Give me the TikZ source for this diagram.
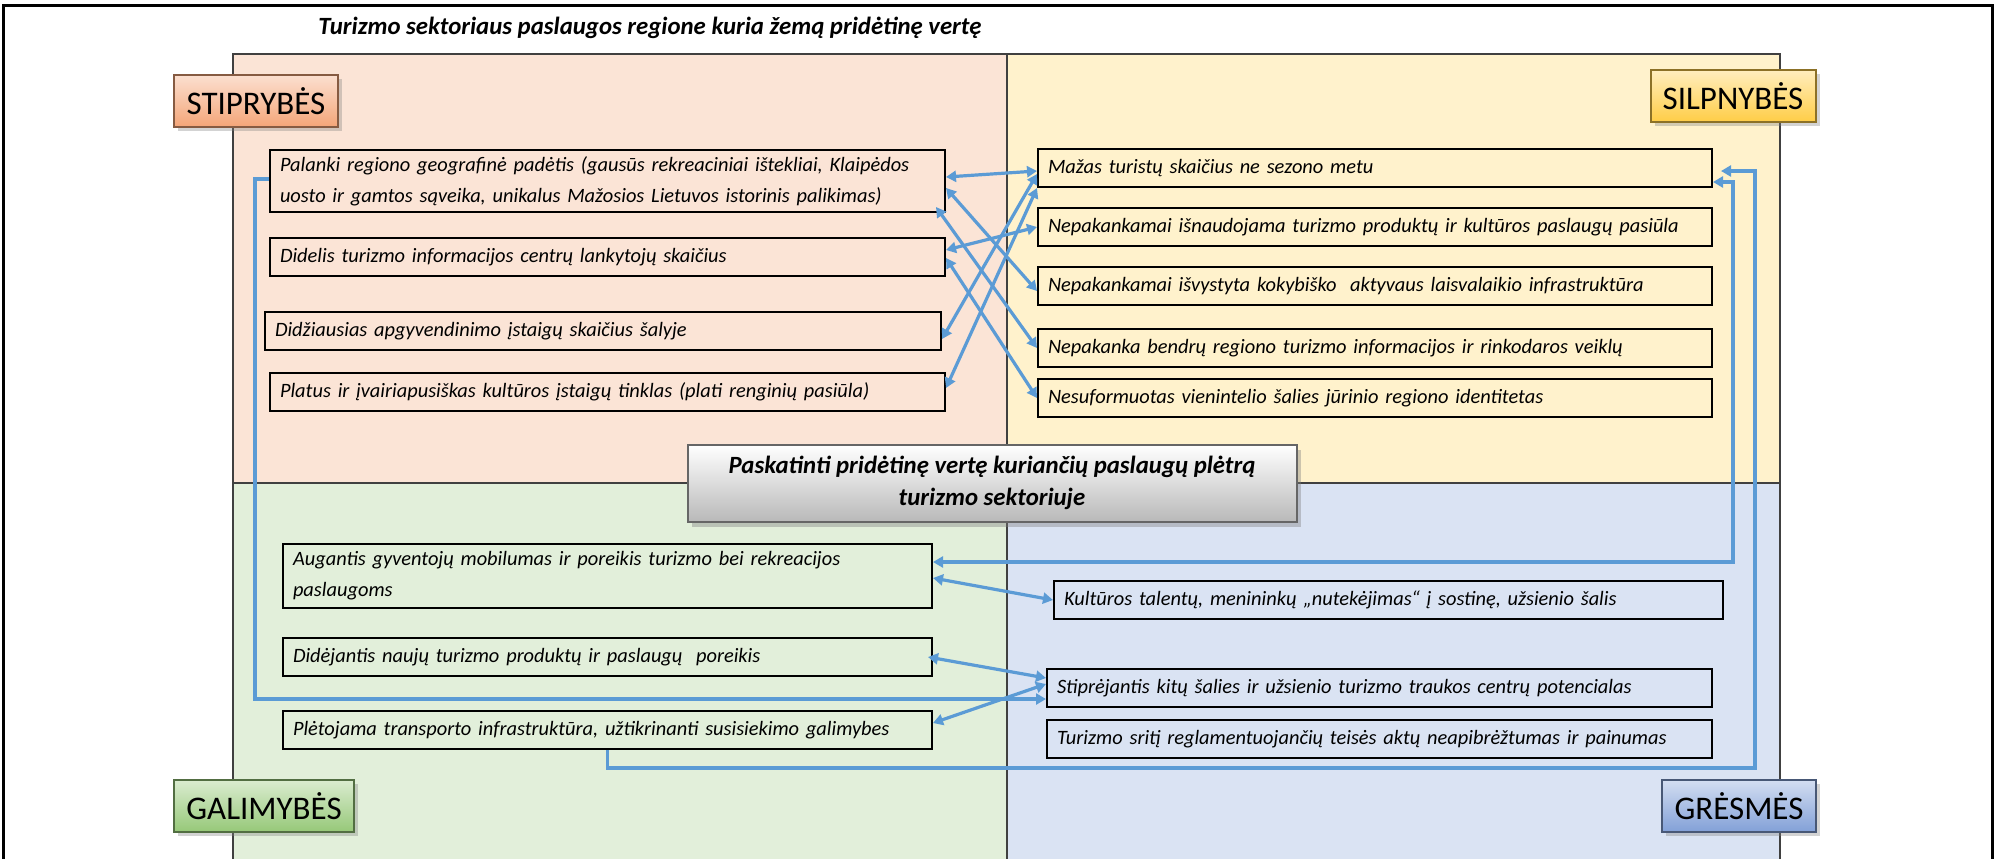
\documentclass[tikz,border=0pt]{standalone}
\usepackage{fontspec}
\setmainfont{Carlito}
\usetikzlibrary{arrows.meta, positioning, shadows, calc}
\definecolor{Strength}{RGB}{251, 228, 214}
\definecolor{Weakness}{RGB}{255, 242, 204}
\definecolor{Chance}{RGB}{226, 239, 218}
\definecolor{Threat}{RGB}{218, 227, 243}
\definecolor{Edge}{RGB}{64, 64, 64}
\definecolor{Link}{RGB}{91, 155, 213}
\definecolor{StrengthTag}{RGB}{244, 165, 120}
\definecolor{WeaknessTag}{RGB}{255, 205, 70}
\definecolor{ChanceTag}{RGB}{150, 200, 120}
\definecolor{ThreatTag}{RGB}{130, 160, 215}

\begin{document}
\begin{tikzpicture}[
        x=0.5pt, y=-0.5pt,
        >={Triangle[length=5pt, width=5.5pt]},
        quadline/.style={draw=Edge, line width=0.75pt},
        itembox/.style={draw=black, line width=1pt, anchor=north west, align=left,
            inner xsep=5pt, inner ysep=2pt, minimum height=19pt,
            font=\fontsize{10.2}{15.5}\selectfont\itshape},
        swotlabel/.style={draw=#1!55!black, line width=1pt, top color=#1!35!white, bottom color=#1,
            minimum height=26pt, inner xsep=4pt, font=\fontsize{16.5}{18}\selectfont,
            drop shadow={shadow xshift=2pt, shadow yshift=-2pt, opacity=0.35}},
        linkline/.style={draw=Link, line width=1.6pt}
    ]
        \useasboundingbox (0,0) rectangle (1998,858);

        % Quadrants
        \fill[Strength] (233,54) rectangle (1007,483);
        \fill[Weakness] (1007,54) rectangle (1780,483);
        \fill[Chance] (233,483) rectangle (1007,900);
        \fill[Threat] (1007,483) rectangle (1780,900);
        \draw[quadline] (233,900) -- (233,54) -- (1780,54) -- (1780,900);
        \draw[quadline] (1007,54) -- (1007,900);
        \draw[quadline] (233,483) -- (1780,483);

        % Frame
        \draw[line width=1.5pt] (3,900) -- (3,5) -- (1992,5) -- (1992,900);

        % Title
        \node[font=\fontsize{12.4}{14}\selectfont\bfseries\itshape] (title) at (650,28) {Turizmo sektoriaus paslaugos regione kuria žemą pridėtinę vertę};

        % Labels
        \node[swotlabel=StrengthTag, minimum width=82pt] (stipr) at (256,101) {STIPRYBĖS};
        \node[swotlabel=WeaknessTag, minimum width=82.5pt] (silpn) at (1733,96) {SILPNYBĖS};
        \node[swotlabel=ChanceTag, minimum width=90pt] (galim) at (264,806) {GALIMYBĖS};
        \node[swotlabel=ThreatTag, minimum width=77pt] (gresm) at (1739,806) {GRĖSMĖS};

        % Strengths
        \node[itembox, text width=327.5pt, minimum height=31pt] (s1) at (269,149) {Palanki regiono geografinė padėtis (gausūs rekreaciniai ištekliai, Klaipėdos\\uosto ir gamtos sąveika, unikalus Mažosios Lietuvos istorinis palikimas)};
        \node[itembox, text width=327.5pt] (s2) at (269,237) {Didelis turizmo informacijos centrų lankytojų skaičius};
        \node[itembox, text width=328pt] (s3) at (264,311) {Didžiausias apgyvendinimo įstaigų skaičius šalyje};
        \node[itembox, text width=327.5pt] (s4) at (269,372) {Platus ir įvairiapusiškas kultūros įstaigų tinklas (plati renginių pasiūla)};

        % Weaknesses
        \node[itembox, text width=327pt] (w1) at (1037,148) {Mažas turistų skaičius ne sezono metu};
        \node[itembox, text width=327pt] (w2) at (1037,207) {Nepakankamai išnaudojama turizmo produktų ir kultūros paslaugų pasiūla};
        \node[itembox, text width=327pt] (w3) at (1037,266) {Nepakankamai išvystyta kokybiško\ \ aktyvaus laisvalaikio infrastruktūra};
        \node[itembox, text width=327pt] (w4) at (1037,328) {Nepakanka bendrų regiono turizmo informacijos ir rinkodaros veiklų};
        \node[itembox, text width=327pt] (w5) at (1037,378) {Nesuformuotas vienintelio šalies jūrinio regiono identitetas};

        % Opportunities
        \node[itembox, text width=314.5pt, minimum height=32pt] (o1) at (282,543) {Augantis gyventojų mobilumas ir poreikis turizmo bei rekreacijos\\paslaugoms};
        \node[itembox, text width=314.5pt] (o2) at (282,637) {Didėjantis naujų turizmo produktų ir paslaugų\ \ poreikis};
        \node[itembox, text width=314.5pt] (o3) at (282,710) {Plėtojama transporto infrastruktūra, užtikrinanti susisiekimo galimybes};

        % Threats
        \node[itembox, text width=324.5pt] (t1) at (1053,580) {Kultūros talentų, menininkų „nutekėjimas“ į sostinę, užsienio šalis};
        \node[itembox, text width=322.5pt] (t2) at (1046,668) {Stiprėjantis kitų šalies ir užsienio turizmo traukos centrų potencialas};
        \node[itembox, text width=322.5pt] (t3) at (1046,719) {Turizmo sritį reglamentuojančių teisės aktų neapibrėžtumas ir painumas};

        % Goal
        \node[draw=gray!80!black, line width=1pt, top color=white, bottom color=gray!55, minimum width=304.5pt, minimum height=38.5pt,
            align=center, font=\fontsize{12.4}{16}\selectfont\bfseries\itshape,
            drop shadow={shadow xshift=2pt, shadow yshift=-2.5pt, opacity=0.4}] (goal) at (992,483) {Paskatinti pridėtinę vertę kuriančių paslaugų plėtrą\\turizmo sektoriuje};

        % Links S-W
        \draw[linkline, <->] ([yshift=2pt]s1.east) -- ([yshift=-1.5pt]w1.west);
        \draw[linkline, <->] ([yshift=-3.5pt]s1.east) -- ([yshift=-2.5pt]w3.west);
        \draw[linkline, <->] ([xshift=-5pt, yshift=3pt]s1.south east) -- (w4.west);
        \draw[linkline, <->] ([yshift=3.5pt]s2.east) -- (w2.west);
        \draw[linkline, <->] ([yshift=-0.5pt]s2.east) -- (w5.west);
        \draw[linkline, <->] ([yshift=-4pt]s3.east) -- ([yshift=-3pt]w1.west);
        \draw[linkline, <->] ([yshift=2pt]s4.east) -- (w1.south west);

        % Links O-T
        \draw[linkline, <->] ([yshift=-1pt]o1.east) -- (t1.west);
        \draw[linkline, <->] ([xshift=-2.5pt]o2.east) -- ([yshift=5pt]t2.west);
        \draw[linkline, <->] ([yshift=3.5pt]o3.east) -- ([yshift=2pt]t2.west);

        % Long links
        \draw[linkline, ->] ([yshift=1pt]s1.west) -- ++(-7pt,0) |- ([yshift=-5.5pt]t2.west);
        \draw[linkline, <->] ([yshift=7pt]o1.east) -| ([xshift=10pt, yshift=-7pt]w1.east) -- ([yshift=-7pt]w1.east);
        \draw[linkline, ->, shorten >=4pt] (o3.south) -- ++(0,-9pt) -| ([xshift=21pt, yshift=-1.5pt]w1.east) -- ([yshift=-1.5pt]w1.east);
    \end{tikzpicture}
\end{document}
